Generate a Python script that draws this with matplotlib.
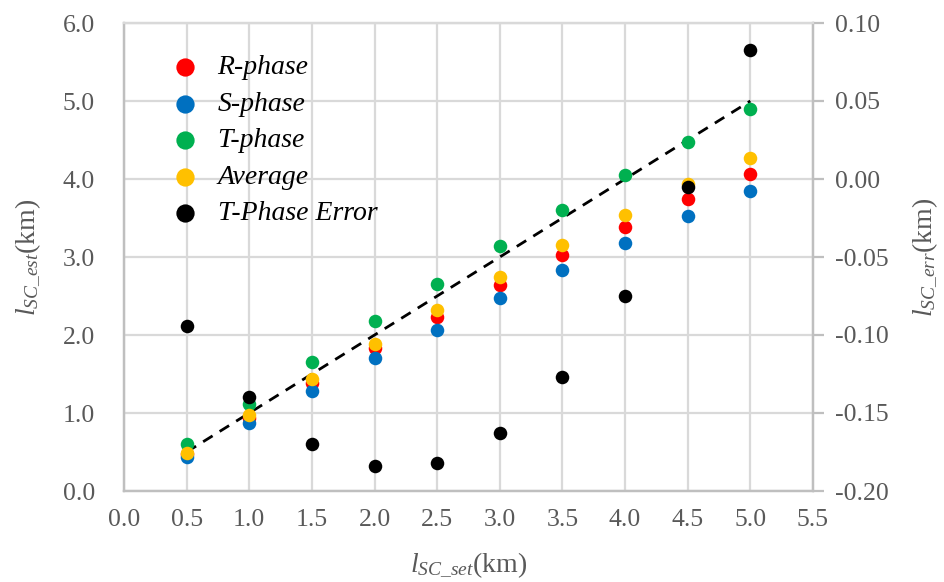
import matplotlib
matplotlib.use("Agg")
import matplotlib.pyplot as plt
from matplotlib.ticker import MultipleLocator, FormatStrFormatter

plt.rcParams['font.family'] = ['Liberation Serif', 'DejaVu Serif']
plt.rcParams['mathtext.fontset'] = 'custom'
plt.rcParams['mathtext.rm'] = 'Liberation Serif'
plt.rcParams['mathtext.it'] = 'Liberation Serif:italic'

x_set = [0.5, 1.0, 1.5, 2.0, 2.5, 3.0, 3.5, 4.0, 4.5, 5.0]
r_phase = [0.47, 0.93, 1.39, 1.83, 2.23, 2.64, 3.03, 3.39, 3.75, 4.07]
s_phase = [0.44, 0.87, 1.28, 1.70, 2.07, 2.47, 2.83, 3.18, 3.53, 3.85]
t_phase = [0.60, 1.12, 1.65, 2.18, 2.66, 3.14, 3.60, 4.05, 4.47, 4.90]
average = [0.49, 0.97, 1.44, 1.89, 2.32, 2.75, 3.16, 3.54, 3.93, 4.27]
t_error = [-0.094, -0.140, -0.170, -0.184, -0.182, -0.163, -0.127, -0.075, -0.005, 0.083]
ideal_x = [0.5, 5.0]
ideal_y = [0.5, 5.0]

gray = '#595959'
spine_c = '#bfbfbf'
grid_c = '#d9d9d9'

fig = plt.figure(figsize=(9.45, 5.82), dpi=100)
ax = fig.add_axes([124/945, 1 - 491/582, (813-124)/945, (491-23)/582])
ax2 = ax.twinx()

ms = 95
h1 = ax.scatter(x_set, r_phase, s=ms, color='#ff0000', label='R-phase', zorder=3, linewidths=0)
h2 = ax.scatter(x_set, s_phase, s=ms, color='#0070c0', label='S-phase', zorder=3, linewidths=0)
h3 = ax.scatter(x_set, t_phase, s=ms, color='#00b050', label='T-phase', zorder=3, linewidths=0)
h4 = ax.scatter(x_set, average, s=ms, color='#ffc000', label='Average', zorder=3, linewidths=0)
ax.plot(ideal_x, ideal_y, linestyle=(0, (4, 3)), color='black', linewidth=2, zorder=2.5)
h5 = ax2.scatter(x_set, t_error, s=ms, color='black', label='T-Phase Error', zorder=4, linewidths=0)

ax.set_xlim(0, 5.5)
ax.set_ylim(0, 6.0)
ax2.set_ylim(-0.20, 0.10)
ax.xaxis.set_major_locator(MultipleLocator(0.5))
ax.yaxis.set_major_locator(MultipleLocator(1.0))
ax2.yaxis.set_major_locator(MultipleLocator(0.05))
ax.xaxis.set_major_formatter(FormatStrFormatter('%.1f'))
ax.yaxis.set_major_formatter(FormatStrFormatter('%.1f'))
ax2.yaxis.set_major_formatter(FormatStrFormatter('%.2f'))

ax.grid(True, color=grid_c, linewidth=1.6, zorder=0)
ax.set_axisbelow(True)

for a in (ax, ax2):
    for side in ('left', 'bottom', 'right'):
        a.spines[side].set_color(spine_c)
        a.spines[side].set_linewidth(1.6)
    a.spines['top'].set_color(grid_c)
    a.spines['top'].set_linewidth(1.6)

ax.tick_params(axis='both', length=0, labelsize=18.5, labelcolor=gray)
ax.tick_params(axis='x', pad=13)
ax.tick_params(axis='y', pad=21)
ax2.tick_params(axis='y', length=8, width=1.6, color=spine_c, labelsize=18.5, labelcolor=gray, pad=8)

ax.set_xlabel(r'$l_{SC\_set}$(km)', fontsize=20, color=gray, labelpad=14)
ax.set_ylabel(r'$l_{SC\_est}$(km)', fontsize=20, color=gray, labelpad=14)
ax2.set_ylabel(r'$l_{SC\_err}$(km)', fontsize=20, color=gray, labelpad=16)

leg = ax2.legend(handles=[h1, h2, h3, h4, h5], loc='upper left',
                 bbox_to_anchor=(0.068, 0.932), frameon=False, markerscale=1.35,
                 prop={'family': 'Liberation Serif', 'style': 'italic', 'size': 20},
                 handlelength=1.0, handletextpad=0.68, labelspacing=0.4,
                 borderaxespad=0, borderpad=0)

fig.savefig('out.png', dpi=100)
